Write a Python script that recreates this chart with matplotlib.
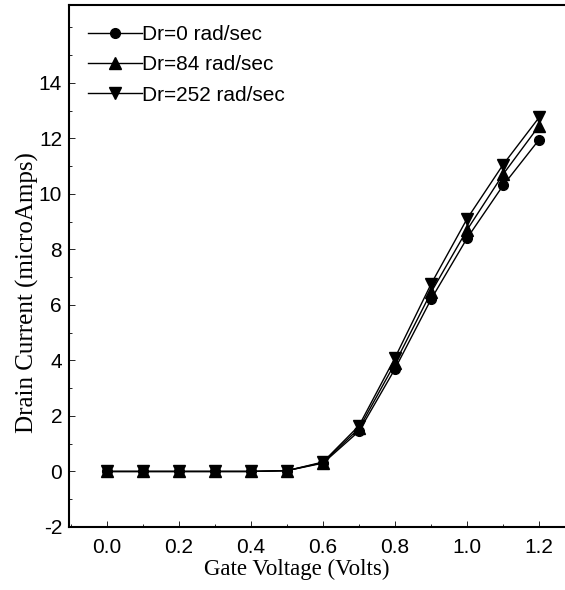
import matplotlib
matplotlib.use("Agg")
import matplotlib.pyplot as plt
from matplotlib.ticker import MultipleLocator

plt.rcParams["axes.unicode_minus"] = False

x = [0.0, 0.1, 0.2, 0.3, 0.4, 0.5, 0.6, 0.7, 0.8, 0.9, 1.0, 1.1, 1.2]
dr0 = [0, 0, 0, 0, 0, 0.03, 0.3, 1.45, 3.7, 6.2, 8.4, 10.3, 11.95]
dr84 = [0, 0, 0, 0, 0, 0.03, 0.32, 1.55, 3.9, 6.45, 8.7, 10.7, 12.45]
dr252 = [0, 0, 0, 0, 0, 0.03, 0.34, 1.65, 4.1, 6.75, 9.1, 11.05, 12.75]
labels = ["Dr=0 rad/sec", "Dr=84 rad/sec", "Dr=252 rad/sec"]

fig = plt.figure(figsize=(5.65, 5.9), dpi=100)
ax = fig.add_axes([0.1221, 0.1068, 0.8779, 0.8847])

ax.plot(x, dr0, color="black", lw=1, marker="o", ms=7, label=labels[0])
ax.plot(x, dr84, color="black", lw=1, marker="^", ms=8, label=labels[1])
ax.plot(x, dr252, color="black", lw=1, marker="v", ms=8, label=labels[2])

ax.set_xlim(-0.1056, 1.272)
ax.set_ylim(-2, 16.8)
ax.set_xticks([0.0, 0.2, 0.4, 0.6, 0.8, 1.0, 1.2])
ax.set_xticklabels(["0.0", "0.2", "0.4", "0.6", "0.8", "1.0", "1.2"])
ax.xaxis.set_minor_locator(MultipleLocator(0.1))
ax.set_yticks([-2, 0, 2, 4, 6, 8, 10, 12, 14])
ax.yaxis.set_minor_locator(MultipleLocator(1))
ax.tick_params(axis="both", which="both", direction="in", labelsize=15)
ax.tick_params(axis="both", which="major", length=4, width=0.6)
ax.tick_params(axis="x", which="major", pad=8)
ax.tick_params(axis="y", which="major", pad=5)
ax.tick_params(axis="both", which="minor", length=2.5, width=0.6)
for lab in ax.get_xticklabels() + ax.get_yticklabels():
    lab.set_fontfamily("Liberation Sans")
ax.spines["right"].set_visible(False)
for s in ["left", "bottom", "top"]:
    ax.spines[s].set_linewidth(1.5)

ax.set_xlabel("Gate Voltage (Volts)", fontfamily="Liberation Serif", fontsize=16.5, labelpad=1)
ax.xaxis.label.set_x(0.46)
ax.set_ylabel("Drain Current (microAmps)", fontfamily="Liberation Serif", fontsize=18, labelpad=0)
ax.yaxis.label.set_y(0.45)

leg = ax.legend(loc="upper left", frameon=False, handlelength=2.6, handletextpad=0.0,
                prop={"family": "Liberation Sans", "size": 15}, borderaxespad=0.0,
                labelspacing=0.55, bbox_to_anchor=(0.022, 0.978))

fig.savefig("out.png", dpi=100)
